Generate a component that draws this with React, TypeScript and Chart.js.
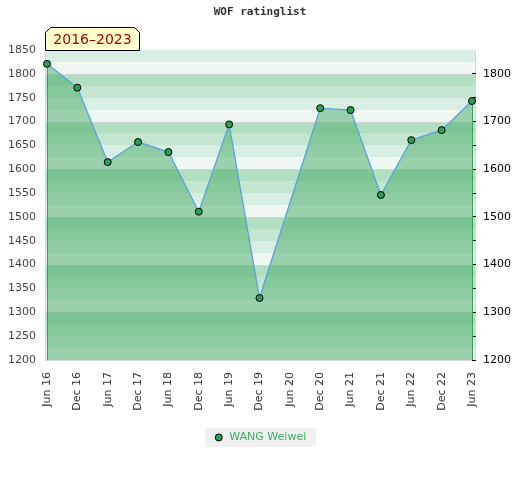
import React, { useEffect, useRef } from 'react';
import { Chart, registerables } from 'chart.js';

Chart.register(...registerables);

const TITLE = 'WOF ratinglist';
const PERIOD = '2016–2023';
const PLAYER = 'WANG Weiwei';
const periods = ['Jun 16', 'Dec 16', 'Jun 17', 'Dec 17', 'Jun 18', 'Dec 18', 'Jun 19', 'Dec 19', 'Jun 20', 'Dec 20', 'Jun 21', 'Dec 21', 'Jun 22', 'Dec 22', 'Jun 23'];
const ratings: (number | null)[] = [1821, 1771, 1615, 1657, 1636, 1511, 1694, 1330, null, 1728, 1724, 1546, 1661, 1682, 1743];
const Y_MIN = 1200;
const Y_MAX = 1850;
const BAND = 25;
const bandColors = ['#eef7f2', '#d9eee2', '#c4e6d0', '#b2dfc2'];

const bandsPlugin = {
  id: 'bands',
  beforeDraw(chart: any) {
    const ctx = chart.ctx;
    const lg = chart.legend;
    ctx.save();
    if (lg && lg.legendHitBoxes && lg.legendHitBoxes[0]) {
      const hb = lg.legendHitBoxes[0];
      const cy = hb.top + hb.height / 2;
      ctx.fillStyle = '#f0f0f0';
      ctx.fillRect(Math.round(hb.left - 9), Math.round(cy - 9.5), Math.round(hb.width + 19), 19);
    }
    const ys = chart.scales.y;
    const { left, right, bottom } = chart.chartArea;
    const L = left - 2;
    const R = right + 3;
    for (let v = Y_MIN; v < Y_MAX; v += BAND) {
      const k = (v % 100) / BAND;
      const y1 = Math.round(ys.getPixelForValue(v + BAND));
      const y0 = Math.round(ys.getPixelForValue(v));
      ctx.fillStyle = bandColors[k];
      ctx.fillRect(L, y1, R - L, y0 - y1);
    }
    ctx.strokeStyle = '#d6d6d6';
    ctx.lineWidth = 1;
    for (let v = Y_MIN + 100; v < Y_MAX; v += 100) {
      const y = Math.round(ys.getPixelForValue(v)) + 0.5;
      ctx.beginPath();
      ctx.moveTo(L, y);
      ctx.lineTo(R, y);
      ctx.stroke();
    }
    ctx.beginPath();
    ctx.moveTo(L + 0.5, ys.getPixelForValue(Y_MAX));
    ctx.lineTo(L + 0.5, Math.round(bottom) + 0.5);
    ctx.lineTo(R + 0.5, Math.round(bottom) + 0.5);
    ctx.lineTo(R + 0.5, ys.getPixelForValue(Y_MAX));
    ctx.stroke();
    ctx.restore();
  },
  afterDatasetsDraw(chart: any) {
    const ctx = chart.ctx;
    const meta = chart.getDatasetMeta(0);
    const { bottom } = chart.chartArea;
    const pts = [meta.data[0], meta.data[meta.data.length - 1]];
    ctx.save();
    ctx.strokeStyle = '#35a05a';
    ctx.lineWidth = 1;
    pts.forEach((p: any) => {
      const x = Math.round(p.x) + 0.5;
      ctx.beginPath();
      ctx.moveTo(x, p.y + 4);
      ctx.lineTo(x, bottom);
      ctx.stroke();
    });
    ctx.restore();
  },
  afterDraw(chart: any) {
    const ctx = chart.ctx;
    const { left, top } = chart.chartArea;
    const x0 = left - 1.5;
    const x1 = x0 + 94;
    const y0 = 27.5;
    const y1 = top + 0.5;
    const c = 5;
    ctx.save();
    ctx.beginPath();
    ctx.moveTo(x0, y1);
    ctx.lineTo(x0, y0 + c);
    ctx.lineTo(x0 + c, y0);
    ctx.lineTo(x1 - c, y0);
    ctx.lineTo(x1, y0 + c);
    ctx.lineTo(x1, y1);
    ctx.closePath();
    ctx.fillStyle = '#ffffcc';
    ctx.fill();
    ctx.strokeStyle = '#000';
    ctx.lineWidth = 1;
    ctx.stroke();
    ctx.fillStyle = '#990000';
    ctx.font = '14px "DejaVu Sans"';
    ctx.textBaseline = 'middle';
    ctx.textAlign = 'center';
    ctx.fillText(PERIOD, (x0 + x1) / 2, (y0 + y1) / 2 + 1);
    ctx.restore();
  },
};

export default function App() {
  const ref = useRef<HTMLCanvasElement>(null);
  useEffect(() => {
    if (!ref.current) return;
    Chart.defaults.font.family = '"DejaVu Sans"';
    const chart = new Chart(ref.current, {
      type: 'line',
      data: {
        labels: periods,
        datasets: [
          {
            label: PLAYER,
            data: ratings,
            borderColor: '#5ba3dc',
            borderWidth: 1.3,
            backgroundColor: 'rgba(70,170,100,0.5)',
            fill: 'start',
            spanGaps: true,
            tension: 0,
            pointRadius: 3.5,
            pointBackgroundColor: '#2e9e55',
            pointBorderColor: '#000',
            pointBorderWidth: 1,
            clip: false as any,
          },
        ],
      },
      options: {
        responsive: false,
        animation: false,
        events: [],
        layout: { padding: { left: 0, right: 0, top: 0, bottom: 27 } },
        plugins: {
          tooltip: { enabled: false },
          title: {
            display: true,
            text: TITLE,
            color: '#333',
            font: { family: '"DejaVu Sans Mono"', size: 11, weight: 'bold' },
            padding: { top: 6, bottom: 30.8 },
          },
          legend: {
            display: true,
            position: 'bottom',
            labels: {
              usePointStyle: true,
              boxWidth: 10,
              boxHeight: 5,
              padding: 12,
              font: { size: 11 },
              generateLabels: () => [
                {
                  text: PLAYER,
                  fillStyle: '#2e9e55',
                  strokeStyle: '#000',
                  lineWidth: 1,
                  pointStyle: 'circle',
                  fontColor: '#3daa63',
                  hidden: false,
                  datasetIndex: 0,
                } as any,
              ],
            },
          },
        },
        scales: {
          x: {
            type: 'category',
            grid: { display: false, drawTicks: false },
            border: { display: false },
            ticks: { autoSkip: false, maxRotation: 90, minRotation: 90, padding: 12, color: '#333', font: { size: 11 } },
            afterFit: (s: any) => { s.height = 60; },
          },
          y: {
            position: 'left',
            min: Y_MIN,
            max: Y_MAX,
            grid: { display: false, drawTicks: false },
            border: { display: false },
            ticks: {
              stepSize: 50,
              autoSkip: false,
              padding: 11,
              color: '#444',
              font: { size: 11 },
              callback: (v: any) => String(v),
            },
            afterFit: (s: any) => { s.width = 47; },
          },
          y2: {
            position: 'right',
            min: Y_MIN,
            max: Y_MAX,
            grid: {
              display: true,
              drawOnChartArea: false,
              drawTicks: true,
              tickLength: 4,
              tickColor: (c: any) => (c.tick && c.tick.value >= Y_MAX ? 'rgba(0,0,0,0)' : '#000'),
              color: '#000',
            },
            border: { display: false },
            ticks: {
              stepSize: 50,
              autoSkip: false,
              padding: 7,
              color: '#000',
              font: { size: 11 },
              callback: (v: any) => (Number(v) % 100 === 0 ? String(v) : ''),
            },
            afterFit: (s: any) => { s.width = 48; },
          },
        },
      },
      plugins: [bandsPlugin],
    });
    return () => chart.destroy();
  }, []);
  return (
    <div style={{ position: 'absolute', left: 0, top: 0, width: 520, height: 480 }}>
      <canvas ref={ref} width={520} height={480} />
    </div>
  );
}
